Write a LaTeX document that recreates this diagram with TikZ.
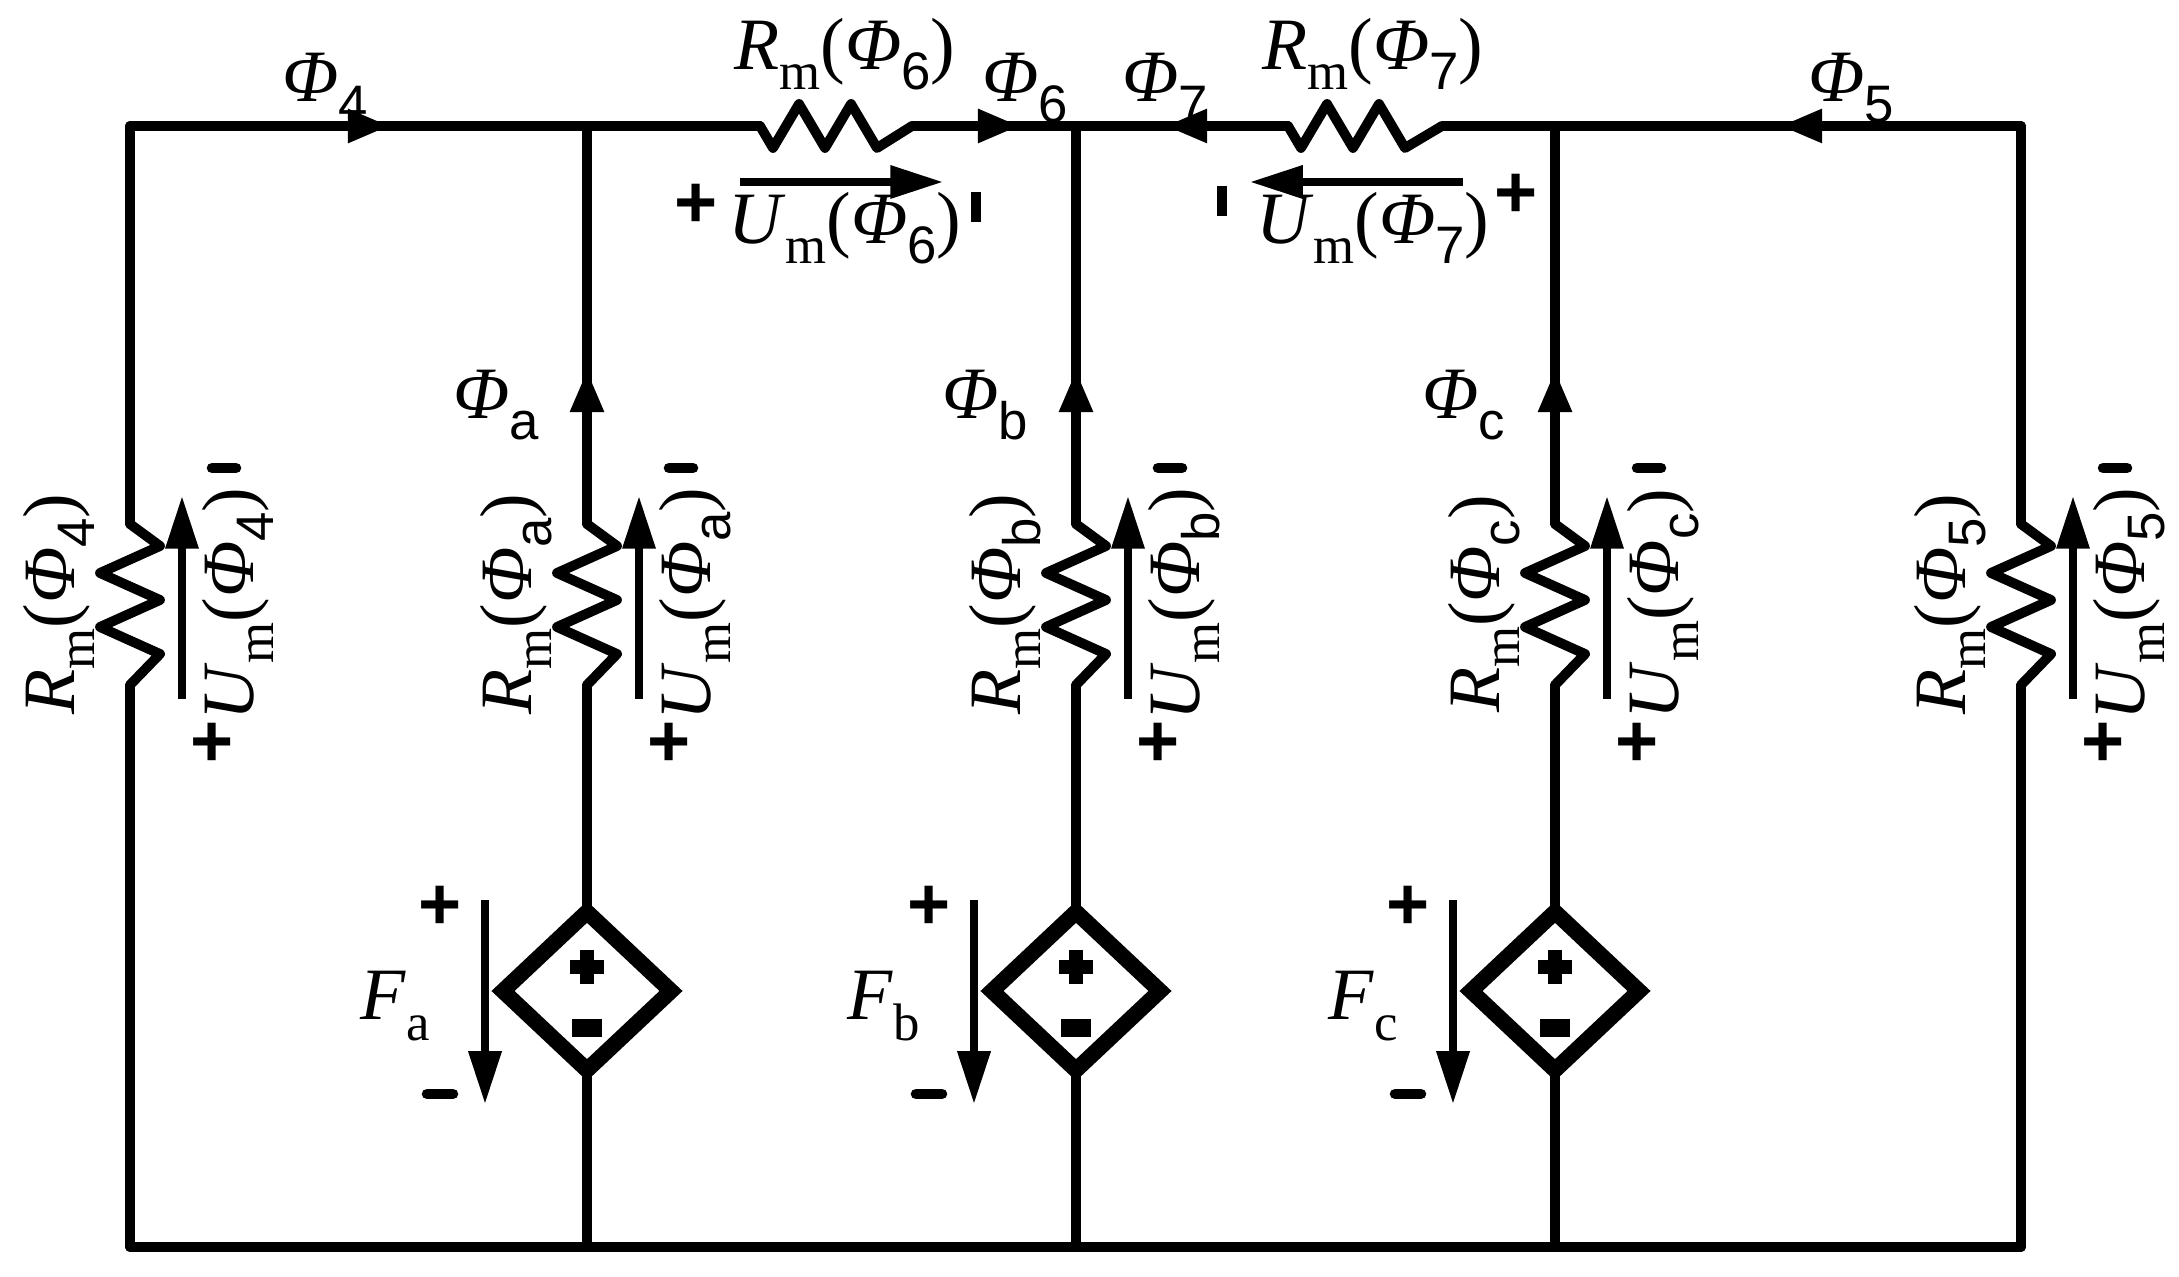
\documentclass[tikz,border=0pt]{standalone}
\usepackage{fontspec}
\setmainfont{Liberation Serif}
\setsansfont{Liberation Sans}
\usetikzlibrary{arrows.meta,decorations.markings}
\newcommand\sbs[1]{\raisebox{-0.28em}{\fontsize{15}{16}\selectfont #1}}
\newcommand\Ph[1]{\textit{Φ}\sbs{\sffamily #1}}
\newcommand\Rm[1]{\textit{R}\sbs{m}(\Ph{#1})}
\newcommand\Um[1]{\textit{U}\sbs{m}(\Ph{#1})}
\begin{document}
\begin{tikzpicture}[x=0.01cm,y=-0.01cm,
  wire/.style={line width=2.8pt,line cap=round,line join=round},
  src/.style={line width=4.5pt,line join=miter},
  lbl/.style={font=\fontsize{21}{24}\selectfont,inner sep=0pt},
  sgn/.style={font=\fontsize{21}{24}\selectfont\sffamily\bfseries,inner sep=0pt},
  varrow/.style={line width=2.2pt,-{Triangle[length=15pt,width=9pt]}},
  midfwd/.style={postaction={decorate},decoration={markings,mark=at position 1 with {\arrow{Triangle[length=12pt,width=9pt]}}}}]
\useasboundingbox (0,0) rectangle (2179,1277);
\foreach \n/\x in {L/130,A/587,B/1076,C/1555,R/2021}{
  \coordinate (t\n) at (\x,126); \coordinate (b\n) at (\x,1247);}
\coordinate (r6a) at (760,126); \coordinate (r6b) at (912,126);
\coordinate (r7a) at (1288,126); \coordinate (r7b) at (1442,126);
\coordinate (p4) at (390,126); \coordinate (p6) at (1020,126);
\coordinate (p7) at (1165,126); \coordinate (p5) at (1780,126);
\draw[wire,midfwd] (tL) -- (p4);
\draw[wire] (p4) -- (r6a);
\draw[wire] (r6a) -- ++(13,22) -- ++(26,-44) -- ++(26,44) -- ++(26,-44) -- ++(26,44) -- (r6b);
\draw[wire,midfwd] (r6b) -- (p6);
\draw[wire] (p6) -- (tB);
\draw[wire] (tB) -- (p7);
\draw[wire,midfwd] (r7a) -- (p7);
\draw[wire] (r7a) -- ++(13,22) -- ++(26,-44) -- ++(26,44) -- ++(26,-44) -- ++(26,44) -- (r7b);
\draw[wire] (r7b) -- (p5);
\draw[wire,midfwd] (tR) -- (p5);
\draw[wire] (bL) -- (bR);
\foreach \n/\x in {L/130,A/587,B/1076,C/1555,R/2021}{
  \draw[wire] (\x,524) -- ++(30,22) -- ++(-60,27) -- ++(60,27) -- ++(-60,27) -- ++(60,27) -- (\x,685);
}
\draw[wire] (tL) -- (130,524); \draw[wire] (130,685) -- (bL);
\draw[wire] (tR) -- (2021,524); \draw[wire] (2021,685) -- (bR);
\foreach \n/\x/\s in {A/587/a,B/1076/b,C/1555/c}{
  \coordinate (v\n) at (\x,370);
  \draw[wire,midfwd] (\x,524) -- (v\n);
  \draw[wire] (v\n) -- (t\n);
  \draw[wire] (\x,685) -- (\x,912);
  \draw[src] (\x,912) -- (\x+84,991) -- (\x,1070) -- (\x-84,991) -- cycle;
  \draw[wire] (\x,1070) -- (b\n);
  \draw[line width=4pt] (\x-17,967) -- (\x+17,967) (\x,950) -- (\x,984);
  \draw[line width=5pt] (\x-15,1028) -- (\x+15,1028);
  \node[lbl] at (\x-91,405) {\Ph{\s}};
  \draw[varrow] (\x-102,900) -- (\x-102,1104);
  \node[sgn] at (\x-147,908) {+};
  \draw[line width=3pt,line cap=round] (\x-160,1094) -- (\x-134,1094);
  \node[lbl] at (\x-192,1006) {\textit{F}\sbs{\s}};
}
\foreach \x/\s in {130/4,587/a,1076/b,1555/c,2021/5}{
  \node[lbl,rotate=90] at (\x-71,604) {\Rm{\s}};
  \draw[varrow] (\x+52,699) -- (\x+52,496);
  \node[lbl,rotate=90] at (\x+108,604) {\Um{\s}};
  \draw[line width=3pt,line cap=round] (\x+82,468) -- (\x+106,468);
  \node[sgn] at (\x+82,745) {+};
}
\node[lbl] at (325,88) {\Ph{4}};
\node[lbl] at (845,54) {\Rm{6}};
\node[lbl] at (1025,88) {\Ph{6}};
\node[lbl] at (1165,88) {\Ph{7}};
\node[lbl] at (1373,54) {\Rm{7}};
\node[lbl] at (1851,88) {\Ph{5}};
\coordinate (u6a) at (740,182); \coordinate (u6b) at (943,182);
\coordinate (u7a) at (1463,182); \coordinate (u7b) at (1250,182);
\draw[varrow] (u6a) -- (u6b);
\draw[varrow] (u7a) -- (u7b);
\node[lbl] at (845,228) {\Um{6}};
\node[lbl] at (1373,228) {\Um{7}};
\node[sgn] at (696,206) {+};
\draw[line width=3pt] (976,192) -- (976,222);
\draw[line width=3pt] (1222,186) -- (1222,216);
\node[sgn] at (1516,196) {+};
\end{tikzpicture}
\end{document}
